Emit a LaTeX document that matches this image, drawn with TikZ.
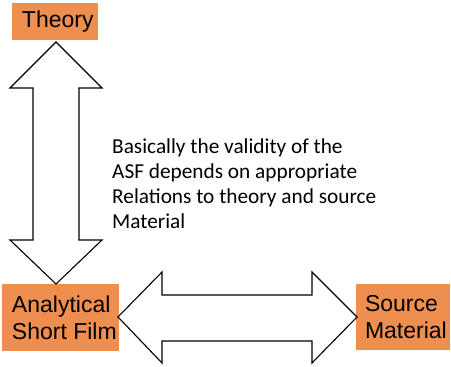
\documentclass[tikz,border=0pt]{standalone}
\usepackage{fontspec}
\setmainfont{Liberation Sans}
\newfontfamily\bodyfont{Carlito}
\definecolor{boxorange}{RGB}{238,143,80}
\begin{document}
\begin{tikzpicture}[x=1pt,y=1pt,
  obox/.style={fill=boxorange, draw=none, inner sep=0pt},
  otext/.style={anchor=west, inner sep=0pt, xshift=10pt, font=\fontsize{23}{27}\selectfont, align=left},
  bigarrow/.style={draw=black, line width=1.1pt, fill=white, line join=miter}]
\useasboundingbox (0,0) rectangle (451,367);
% boxes
\node[obox, minimum width=86, minimum height=37] (theory) at (55,345.5) {};
\node[otext] (theorytext) at (theory.west) {Theory};
\node[obox, minimum width=117, minimum height=67] (asf) at (60.5,49.5) {};
\node[otext] (asftext) at (asf.west) {Analytical\\Short Film};
\node[obox, minimum width=94, minimum height=66] (src) at (403,50) {};
\node[otext, xshift=-1pt] (srctext) at (src.west) {Source\\Material};
% vertical double arrow
\draw[bigarrow] (56,325) -- (102,279) -- (79,279) -- (79,127) -- (102,127) -- (56,83)
  -- (10,127) -- (33,127) -- (33,279) -- (10,279) -- cycle;
% horizontal double arrow
\draw[bigarrow] (118,50) -- (162,95) -- (162,72) -- (312,72) -- (312,95) -- (357,50)
  -- (312,4) -- (312,26) -- (162,26) -- (162,4) -- cycle;
% text
\node[anchor=base west, inner sep=0pt, align=left, font=\bodyfont\fontsize{21.3}{25.3}\selectfont] (note) at (112,138)
  {Basically the validity of the\\ASF depends on appropriate\\Relations to theory and source\\Material};
\end{tikzpicture}
\end{document}
